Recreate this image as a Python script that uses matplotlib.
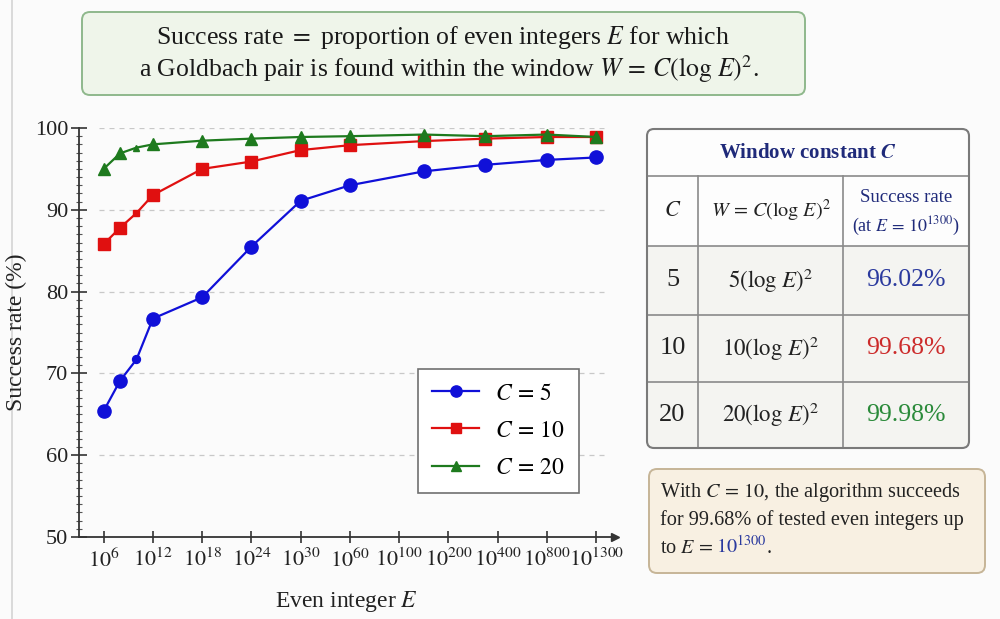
import numpy as np
import matplotlib
matplotlib.use('Agg')
import matplotlib.pyplot as plt
from matplotlib.patches import FancyBboxPatch, Rectangle
from matplotlib.ticker import MultipleLocator

plt.rcParams['font.family'] = ['Liberation Serif', 'DejaVu Serif']
plt.rcParams['mathtext.fontset'] = 'stix'

# ---------------- data ----------------
tick_exponents = [6, 12, 18, 24, 30, 60, 100, 200, 400, 800, 1300]
tick_labels = [f'$10^{{{e}}}$' for e in tick_exponents]
point_exponents = [6, 8, 10, 12, 18, 24, 30, 60, 150, 350, 800, 1300]
rate_c5 = [65.4, 69.1, 71.7, 76.7, 79.3, 85.5, 91.1, 93.0, 94.7, 95.5, 96.1, 96.4]
rate_c10 = [85.8, 87.8, 89.6, 91.8, 95.0, 95.9, 97.3, 97.9, 98.4, 98.7, 98.9, 98.9]
rate_c20 = [95.0, 96.9, 97.6, 98.0, 98.45, 98.7, 98.9, 99.0, 99.2, 99.0, 99.2, 98.9]
series_labels = ['$C\\,=\\,5$', '$C\\,=\\,10$', '$C\\,=\\,20$']
table_C = ['5', '10', '20']
table_W = ['$5(\\log\\,E)^2$', '$10(\\log\\,E)^2$', '$20(\\log\\,E)^2$']
table_rates = [96.02, 99.68, 99.98]

blue, red, green = '#1010d8', '#e01010', '#1e7a1e'
val_colors = ['#2b3a9e', '#cc2b2b', '#2a8a3a']
navy = '#1f2a7a'

W, H = 1000, 619
fig = plt.figure(figsize=(10, 6.19), dpi=100)
fig.patch.set_facecolor('#fbfbfb')

# pixel-coordinate overlay
ov = fig.add_axes([0, 0, 1, 1], zorder=0)
ov.set_xlim(0, W)
ov.set_ylim(H, 0)
ov.axis('off')
ov.patch.set_alpha(0)

ov.plot([12, 12], [0, H], color='#d4d4d4', lw=1.2)

# title box
ov.add_patch(FancyBboxPatch((82, 12), 723, 83, boxstyle='round,pad=0,rounding_size=8',
                            fc='#eff5ea', ec='#8fb88c', lw=1.4))
ov.text(443, 44, 'Success rate $=$ proportion of even integers $E$ for which',
        ha='center', va='baseline', fontsize=18.5, color='#1a1a1a')
ov.text(449, 77, 'a Goldbach pair is found within the window $W\\,=\\,C(\\log\\,E)^2$.',
        ha='center', va='baseline', fontsize=18.5, color='#1a1a1a')

# ---------------- main axes ----------------
ax_l, ax_r, ax_b, ax_t = 78.5, 615, 537, 128
ax = fig.add_axes([ax_l / W, 1 - ax_b / H, (ax_r - ax_l) / W, (ax_b - ax_t) / H], zorder=2)
ax.patch.set_alpha(0)

tick_pos = np.arange(len(tick_exponents))
xp = np.interp(point_exponents, tick_exponents, tick_pos)

ax.set_xlim(-0.51, 10.38)
ax.set_ylim(50, 100)

for yv in range(60, 101, 10):
    ax.hlines(yv, -0.1, 10.2, colors='#c8c8c8', linestyles=(0, (4, 4)), lw=0.9, zorder=1)

styles = [(rate_c5, blue, 'o', 9.5), (rate_c10, red, 's', 8), (rate_c20, green, '^', 8)]
small_idx = [2]
for (vals, col, mk, ms), lab in zip(styles, series_labels):
    big = [i for i in range(len(vals)) if i not in small_idx]
    ax.plot(xp, vals, color=col, lw=1.6, marker=mk, ms=ms, markevery=big,
            label=lab, clip_on=False, zorder=3)
    ax.plot(xp, vals, color=col, lw=0, marker=mk, ms=ms * 0.6, markevery=small_idx,
            clip_on=False, zorder=3)

ax.set_xticks(tick_pos)
ax.set_xticklabels(tick_labels, fontsize=16)
ax.yaxis.set_major_locator(MultipleLocator(10))
ax.yaxis.set_minor_locator(MultipleLocator(1))
ax.tick_params(axis='y', which='major', direction='inout', length=11, width=1.2,
               labelsize=16, pad=2, colors='#333333', labelcolor='#222222')
ax.tick_params(axis='y', which='minor', direction='inout', length=4, width=0.8, colors='#555555')
ax.tick_params(axis='x', which='major', direction='inout', length=9, width=1.2,
               pad=4, colors='#333333', labelcolor='#222222')
for s in ['top', 'right']:
    ax.spines[s].set_visible(False)
for s in ['left', 'bottom']:
    ax.spines[s].set_color('#333333')
    ax.spines[s].set_linewidth(1.3)
ax.plot(1, 0, marker='>', color='#333333', ms=6, transform=ax.transAxes, clip_on=False)

ax.set_xlabel('Even integer $E$', fontsize=17, labelpad=12, color='#222222')
ax.set_ylabel('Success rate (%)', fontsize=17, color='#222222')
ax.yaxis.set_label_coords((27 - ax_l) / (ax_r - ax_l), (ax_b - 332) / (ax_b - ax_t))

leg = ax.legend(loc='lower left', bbox_to_anchor=(0.633, 0.1076), fontsize=17,
                frameon=True, fancybox=False, edgecolor='#707070', framealpha=1,
                handlelength=2.0, handletextpad=0.65, labelspacing=0.66, borderpad=0.6,
                borderaxespad=0, markerscale=0.85)
leg.get_frame().set_linewidth(1.2)

# ---------------- table ----------------
tx0, tx1, ty0, ty1 = 647, 969, 129, 448
row_b = [176, 246, 315, 382, 448]
col_x = [647, 698, 843, 969]
ov.add_patch(FancyBboxPatch((tx0, ty0), tx1 - tx0, ty1 - ty0,
                            boxstyle='round,pad=0,rounding_size=7',
                            fc='#f4f4f1', ec='none', zorder=1))
ov.add_patch(Rectangle((tx0 + 1, ty0 + 1), tx1 - tx0 - 2, row_b[1] - ty0 - 1,
                       fc='#fdfdfd', ec='none', zorder=1))
for yb in row_b[:-1]:
    ov.plot([tx0, tx1], [yb, yb], color='#8a8a8a', lw=1.2, zorder=2)
for xc in col_x[1:-1]:
    ov.plot([xc, xc], [row_b[0], ty1], color='#8a8a8a', lw=1.2, zorder=2)
ov.add_patch(FancyBboxPatch((tx0, ty0), tx1 - tx0, ty1 - ty0,
                            boxstyle='round,pad=0,rounding_size=7',
                            fc='none', ec='#7a7a7a', lw=1.5, zorder=3))

cx = [(col_x[i] + col_x[i + 1]) / 2 for i in range(3)]
ov.text((tx0 + tx1) / 2, 153, 'Window constant $\\mathbfit{C}$', ha='center', va='center',
        fontsize=15, fontweight='bold', color=navy, zorder=4)
ov.text(cx[0], 211, '$C$', ha='center', va='center', fontsize=16, color='#222222', zorder=4)
ov.text(cx[1], 211, '$W\\,=\\,C(\\log\\,E)^2$', ha='center', va='center', fontsize=14.5,
        color='#222222', zorder=4)
ov.text(cx[2], 197, 'Success rate', ha='center', va='center', fontsize=13.5, color=navy, zorder=4)
ov.text(cx[2], 226, '(at $E\\,=\\,10^{1300}$)', ha='center', va='center', fontsize=13,
        color=navy, zorder=4)
for i in range(3):
    yc = (row_b[i + 1] + row_b[i + 2]) / 2
    ov.text(cx[0], yc, table_C[i], ha='center', va='center', fontsize=19, color='#222222', zorder=4)
    ov.text(cx[1], yc, table_W[i], ha='center', va='center', fontsize=16.5, color='#222222', zorder=4)
    ov.text(cx[2], yc, f'{table_rates[i]:.2f}%', ha='center', va='center', fontsize=18.5,
            color=val_colors[i], zorder=4)

# ---------------- note box ----------------
ov.add_patch(FancyBboxPatch((649, 469), 336, 104, boxstyle='round,pad=0,rounding_size=8',
                            fc='#f8f0e2', ec='#c6b597', lw=1.4, zorder=1))
fs_note = 14.6
ov.text(660, 497, 'With $C\\,=\\,10$, the algorithm succeeds', ha='left', va='baseline',
        fontsize=fs_note, color='#222222', zorder=4)
ov.text(660, 525, 'for 99.68% of tested even integers up', ha='left', va='baseline',
        fontsize=fs_note, color='#222222', zorder=4)
t1 = ov.text(660, 553, 'to $E\\,=\\,$', ha='left', va='baseline', fontsize=fs_note,
             color='#222222', zorder=4)
fig.canvas.draw()
r = fig.canvas.get_renderer()
bb = t1.get_window_extent(r)
x_px = bb.x1 * W / (fig.get_figwidth() * fig.dpi) + 3
t2 = ov.text(x_px, 553, '$10^{1300}$', ha='left', va='baseline', fontsize=fs_note,
             color='#2b3a9e', zorder=4)
fig.canvas.draw()
bb2 = t2.get_window_extent(r)
x2 = bb2.x1 * W / (fig.get_figwidth() * fig.dpi)
ov.text(x2, 553, '.', ha='left', va='baseline', fontsize=fs_note, color='#222222', zorder=4)

fig.savefig('out.png', dpi=100, facecolor=fig.get_facecolor())
